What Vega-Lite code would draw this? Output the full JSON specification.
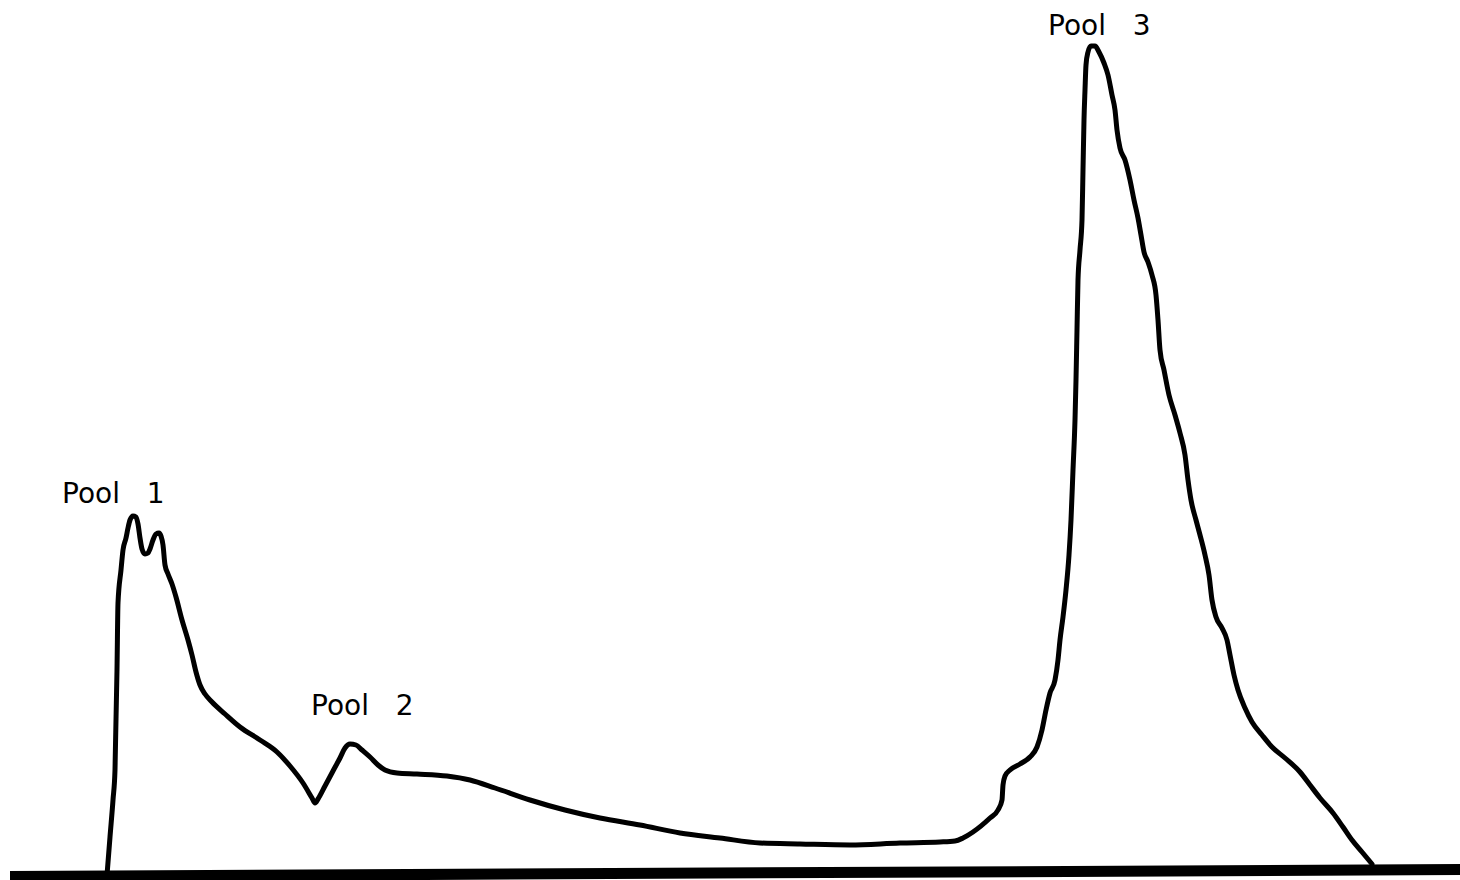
{
  "$schema": "https://vega.github.io/schema/vega-lite/v6.json",
  "autosize": {"type": "none"},
  "width": 1460,
  "height": 880,
  "padding": 0,
  "background": "white",
  "config": {"view": {"stroke": null}},
  "datasets": {
    "trace": [
      {"i":1,"fraction":107,"signal":5},{"i":2,"fraction":110,"signal":43},{"i":3,"fraction":113,"signal":80},{"i":4,"fraction":115,"signal":110},
      {"i":5,"fraction":117,"signal":210},{"i":6,"fraction":118,"signal":277},{"i":7,"fraction":121,"signal":310},{"i":8,"fraction":123,"signal":330},
      {"i":9,"fraction":126,"signal":342},{"i":10,"fraction":128,"signal":352},{"i":11,"fraction":130,"signal":360},{"i":12,"fraction":133,"signal":364},
      {"i":13,"fraction":136,"signal":363},{"i":14,"fraction":138,"signal":356},{"i":15,"fraction":140,"signal":342},{"i":16,"fraction":142,"signal":331},
      {"i":17,"fraction":145,"signal":326},{"i":18,"fraction":148,"signal":327},{"i":19,"fraction":150,"signal":331},{"i":20,"fraction":153,"signal":340},
      {"i":21,"fraction":156,"signal":346},{"i":22,"fraction":159,"signal":347},{"i":23,"fraction":161,"signal":344},{"i":24,"fraction":163,"signal":335},
      {"i":25,"fraction":165,"signal":315},{"i":26,"fraction":168,"signal":306},{"i":27,"fraction":172,"signal":296},{"i":28,"fraction":176,"signal":283},
      {"i":29,"fraction":182,"signal":260},{"i":30,"fraction":188,"signal":240},{"i":31,"fraction":192,"signal":225},{"i":32,"fraction":196,"signal":208},
      {"i":33,"fraction":200,"signal":195},{"i":34,"fraction":205,"signal":186},{"i":35,"fraction":212,"signal":178},{"i":36,"fraction":225,"signal":166},
      {"i":37,"fraction":240,"signal":153},{"i":38,"fraction":260,"signal":140},{"i":39,"fraction":277,"signal":128},{"i":40,"fraction":290,"signal":114},
      {"i":41,"fraction":303,"signal":97},{"i":42,"fraction":312,"signal":82},{"i":43,"fraction":315,"signal":77},{"i":44,"fraction":318,"signal":81},
      {"i":45,"fraction":325,"signal":94},{"i":46,"fraction":333,"signal":109},{"i":47,"fraction":340,"signal":122},{"i":48,"fraction":345,"signal":132},
      {"i":49,"fraction":350,"signal":136},{"i":50,"fraction":356,"signal":135},{"i":51,"fraction":362,"signal":130},{"i":52,"fraction":370,"signal":123},
      {"i":53,"fraction":378,"signal":115},{"i":54,"fraction":385,"signal":110},{"i":55,"fraction":397,"signal":107},{"i":56,"fraction":417,"signal":106},
      {"i":57,"fraction":447,"signal":104},{"i":58,"fraction":470,"signal":100},{"i":59,"fraction":495,"signal":92},{"i":60,"fraction":530,"signal":80},
      {"i":61,"fraction":565,"signal":70},{"i":62,"fraction":600,"signal":62},{"i":63,"fraction":640,"signal":55},{"i":64,"fraction":680,"signal":47},
      {"i":65,"fraction":720,"signal":42},{"i":66,"fraction":760,"signal":37},{"i":67,"fraction":800,"signal":36},{"i":68,"fraction":850,"signal":35},
      {"i":69,"fraction":900,"signal":37},{"i":70,"fraction":940,"signal":38},{"i":71,"fraction":955,"signal":39},{"i":72,"fraction":963,"signal":42},
      {"i":73,"fraction":973,"signal":48},{"i":74,"fraction":990,"signal":62},{"i":75,"fraction":998,"signal":70},{"i":76,"fraction":1002,"signal":80},
      {"i":77,"fraction":1003,"signal":95},{"i":78,"fraction":1005,"signal":104},{"i":79,"fraction":1010,"signal":110},{"i":80,"fraction":1020,"signal":116},
      {"i":81,"fraction":1030,"signal":123},{"i":82,"fraction":1037,"signal":133},{"i":83,"fraction":1042,"signal":150},{"i":84,"fraction":1046,"signal":170},
      {"i":85,"fraction":1050,"signal":187},{"i":86,"fraction":1055,"signal":200},{"i":87,"fraction":1058,"signal":220},{"i":88,"fraction":1060,"signal":240},
      {"i":89,"fraction":1063,"signal":263},{"i":90,"fraction":1066,"signal":290},{"i":91,"fraction":1069,"signal":325},{"i":92,"fraction":1071,"signal":360},
      {"i":93,"fraction":1073,"signal":410},{"i":94,"fraction":1075,"signal":460},{"i":95,"fraction":1076,"signal":500},{"i":96,"fraction":1077,"signal":550},
      {"i":97,"fraction":1078,"signal":600},{"i":98,"fraction":1080,"signal":630},{"i":99,"fraction":1082,"signal":660},{"i":100,"fraction":1083,"signal":710},
      {"i":101,"fraction":1084,"signal":760},{"i":102,"fraction":1085,"signal":790},{"i":103,"fraction":1086,"signal":815},{"i":104,"fraction":1088,"signal":828},
      {"i":105,"fraction":1091,"signal":834},{"i":106,"fraction":1095,"signal":834},{"i":107,"fraction":1099,"signal":828},{"i":108,"fraction":1104,"signal":817},
      {"i":109,"fraction":1108,"signal":805},{"i":110,"fraction":1112,"signal":785},{"i":111,"fraction":1115,"signal":770},{"i":112,"fraction":1117,"signal":750},
      {"i":113,"fraction":1120,"signal":732},{"i":114,"fraction":1125,"signal":720},{"i":115,"fraction":1130,"signal":700},{"i":116,"fraction":1134,"signal":680},
      {"i":117,"fraction":1138,"signal":662},{"i":118,"fraction":1141,"signal":645},{"i":119,"fraction":1144,"signal":628},{"i":120,"fraction":1148,"signal":618},
      {"i":121,"fraction":1152,"signal":605},{"i":122,"fraction":1156,"signal":585},{"i":123,"fraction":1158,"signal":560},{"i":124,"fraction":1160,"signal":530},
      {"i":125,"fraction":1164,"signal":510},{"i":126,"fraction":1169,"signal":485},{"i":127,"fraction":1175,"signal":465},{"i":128,"fraction":1180,"signal":447},
      {"i":129,"fraction":1185,"signal":425},{"i":130,"fraction":1188,"signal":400},{"i":131,"fraction":1191,"signal":380},{"i":132,"fraction":1196,"signal":360},
      {"i":133,"fraction":1200,"signal":345},{"i":134,"fraction":1205,"signal":325},{"i":135,"fraction":1209,"signal":305},{"i":136,"fraction":1212,"signal":280},
      {"i":137,"fraction":1216,"signal":263},{"i":138,"fraction":1222,"signal":252},{"i":139,"fraction":1227,"signal":240},{"i":140,"fraction":1230,"signal":225},
      {"i":141,"fraction":1234,"signal":205},{"i":142,"fraction":1238,"signal":190},{"i":143,"fraction":1245,"signal":172},{"i":144,"fraction":1252,"signal":158},
      {"i":145,"fraction":1262,"signal":145},{"i":146,"fraction":1272,"signal":133},{"i":147,"fraction":1285,"signal":122},{"i":148,"fraction":1300,"signal":108},
      {"i":149,"fraction":1310,"signal":95},{"i":150,"fraction":1320,"signal":82},{"i":151,"fraction":1333,"signal":67},{"i":152,"fraction":1343,"signal":53},
      {"i":153,"fraction":1352,"signal":40},{"i":154,"fraction":1362,"signal":28},{"i":155,"fraction":1372,"signal":16}
    ],
    "baseline": [
      {"i":1,"fraction":10,"signal":3.5},
      {"i":2,"fraction":1460,"signal":10.5}
    ],
    "labels": [
      {"fraction":62,"signal":377,"label":"Pool\u00a0\u00a0\u00a01"},
      {"fraction":311,"signal":165,"label":"Pool\u00a0\u00a0\u00a02"},
      {"fraction":1048,"signal":845,"label":"Pool\u00a0\u00a0\u00a03"}
    ]
  },
  "layer": [
    {
      "data": {"name": "baseline"},
      "mark": {"type": "line", "color": "black", "strokeWidth": 11, "strokeCap": "butt", "clip": false},
      "encoding": {
        "x": {"field": "fraction", "type": "quantitative", "scale": {"domain": [0, 1460], "nice": false, "zero": false}, "axis": null},
        "y": {"field": "signal", "type": "quantitative", "scale": {"domain": [0, 880], "nice": false, "zero": false}, "axis": null},
        "order": {"field": "i"}
      }
    },
    {
      "data": {"name": "trace"},
      "mark": {"type": "line", "color": "black", "strokeWidth": 5, "interpolate": "monotone", "strokeJoin": "round", "strokeCap": "round"},
      "encoding": {
        "x": {"field": "fraction", "type": "quantitative"},
        "y": {"field": "signal", "type": "quantitative"},
        "order": {"field": "i"}
      }
    },
    {
      "data": {"name": "labels"},
      "mark": {"type": "text", "align": "left", "baseline": "alphabetic", "font": "DejaVu Sans", "fontSize": 28, "color": "black"},
      "encoding": {
        "x": {"field": "fraction", "type": "quantitative"},
        "y": {"field": "signal", "type": "quantitative"},
        "text": {"field": "label"}
      }
    }
  ]
}
